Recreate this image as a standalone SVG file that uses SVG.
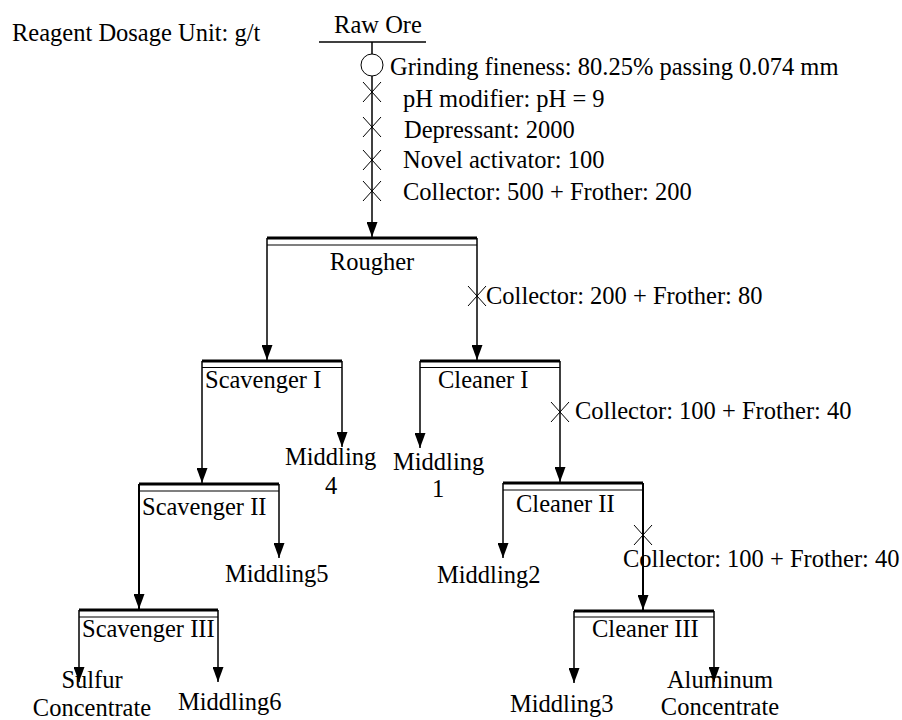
<svg xmlns="http://www.w3.org/2000/svg" width="902" height="720" viewBox="0 0 902 720">
<style>
text{font-family:"Liberation Serif","Times New Roman",serif;font-size:24.5px;fill:#000}
.bar{stroke:#000;stroke-width:3}
.thin{stroke:#000;stroke-width:1.2}
.ln{stroke:#000;stroke-width:1.5;fill:none}
.lnb{stroke:#000;stroke-width:2;fill:none}
.x{stroke:#000;stroke-width:1;fill:none}
</style>
<defs>
<marker id="ah" viewBox="0 0 11 15" refX="5.5" refY="15" markerWidth="11" markerHeight="15" markerUnits="userSpaceOnUse" orient="0">
<path d="M0,0 L11,0 L5.5,15 z" fill="#000"/>
</marker>
<path id="xm" d="M-9,-10 L9,10 M-9,10 L9,-10"/>
</defs>
<rect width="902" height="720" fill="#fff"/>
<text x="12" y="41">Reagent Dosage Unit: g/t</text>
<g id="raw-ore">
<text x="378" y="33" text-anchor="middle">Raw Ore</text>
<line x1="319" y1="42" x2="426" y2="42" class="ln"/>
</g>
<g id="connectors">
<line x1="372" y1="42" x2="372" y2="237" class="ln" marker-end="url(#ah)"/>
<line x1="267" y1="238" x2="267" y2="360" class="ln" marker-end="url(#ah)"/>
<line x1="477" y1="238" x2="477" y2="360" class="ln" marker-end="url(#ah)"/>
<line x1="202" y1="361" x2="202" y2="483" class="ln" marker-end="url(#ah)"/>
<line x1="342" y1="361" x2="342" y2="447" class="ln" marker-end="url(#ah)"/>
<line x1="420" y1="361" x2="420" y2="448" class="ln" marker-end="url(#ah)"/>
<line x1="560" y1="361" x2="560" y2="482" class="ln" marker-end="url(#ah)"/>
<line x1="139" y1="484" x2="139" y2="609" class="lnb" marker-end="url(#ah)"/>
<line x1="279" y1="484" x2="279" y2="558" class="ln" marker-end="url(#ah)"/>
<line x1="503" y1="483" x2="503" y2="558" class="ln" marker-end="url(#ah)"/>
<line x1="643" y1="483" x2="643" y2="610" class="lnb" marker-end="url(#ah)"/>
<line x1="79" y1="610" x2="79" y2="682" class="ln" marker-end="url(#ah)"/>
<line x1="218" y1="610" x2="218" y2="682" class="ln" marker-end="url(#ah)"/>
<line x1="574" y1="611" x2="574" y2="683" class="ln" marker-end="url(#ah)"/>
<line x1="714" y1="611" x2="714" y2="682" class="ln" marker-end="url(#ah)"/>
</g>
<g id="reagents">
<circle cx="372" cy="65" r="11" fill="#fff" stroke="#000" stroke-width="1"/>
<text x="390" y="75">Grinding fineness: 80.25% passing 0.074 mm</text>
<use href="#xm" x="372" y="92" class="x"/>
<text x="403" y="107">pH modifier: pH = 9</text>
<use href="#xm" x="372" y="127" class="x"/>
<text x="404" y="138">Depressant: 2000</text>
<use href="#xm" x="372" y="160" class="x"/>
<text x="403" y="168">Novel activator: 100</text>
<use href="#xm" x="372" y="191" class="x"/>
<text x="403" y="200">Collector: 500 + Frother: 200</text>
<use href="#xm" x="477" y="296" class="x"/>
<text x="486" y="304">Collector: 200 + Frother: 80</text>
<use href="#xm" x="560" y="412" class="x"/>
<text x="575" y="419">Collector: 100 + Frother: 40</text>
<use href="#xm" x="643" y="535" class="x"/>
<text x="623" y="567">Collector: 100 + Frother: 40</text>
</g>
<g id="rougher">
<line x1="267" y1="238" x2="477" y2="238" class="bar"/>
<line x1="267" y1="245" x2="477" y2="245" class="thin"/>
<text x="372" y="270" text-anchor="middle">Rougher</text>
</g>
<g id="scavenger-1">
<line x1="202" y1="361" x2="342" y2="361" class="bar"/>
<line x1="202" y1="367.5" x2="342" y2="367.5" class="thin"/>
<text x="205" y="388">Scavenger I</text>
</g>
<g id="cleaner-1">
<line x1="420" y1="361" x2="560" y2="361" class="bar"/>
<line x1="420" y1="367.5" x2="560" y2="367.5" class="thin"/>
<text x="438" y="388">Cleaner I</text>
</g>
<g id="scavenger-2">
<line x1="139" y1="484" x2="279" y2="484" class="bar"/>
<line x1="139" y1="491" x2="279" y2="491" class="thin"/>
<text x="142" y="515">Scavenger II</text>
</g>
<g id="cleaner-2">
<line x1="503" y1="483" x2="643" y2="483" class="bar"/>
<line x1="503" y1="490" x2="643" y2="490" class="thin"/>
<text x="516" y="512">Cleaner II</text>
</g>
<g id="scavenger-3">
<line x1="79" y1="610" x2="218" y2="610" class="bar"/>
<line x1="79" y1="617" x2="218" y2="617" class="thin"/>
<text x="82" y="637">Scavenger III</text>
</g>
<g id="cleaner-3">
<line x1="574" y1="611" x2="714" y2="611" class="bar"/>
<line x1="574" y1="617" x2="714" y2="617" class="thin"/>
<text x="592" y="637">Cleaner III</text>
</g>
<g id="middling-4"><text x="285" y="465">Middling</text><text x="331" y="494" text-anchor="middle">4</text></g>
<g id="middling-1"><text x="393" y="470">Middling</text><text x="438" y="497" text-anchor="middle">1</text></g>
<g id="middling-5"><text x="225" y="582">Middling5</text></g>
<g id="middling-2"><text x="437" y="583">Middling2</text></g>
<g id="middling-6"><text x="178" y="710">Middling6</text></g>
<g id="middling-3"><text x="510" y="712">Middling3</text></g>
<g id="sulfur-concentrate"><text x="92" y="688" text-anchor="middle">Sulfur</text><text x="92" y="716" text-anchor="middle">Concentrate</text></g>
<g id="aluminum-concentrate"><text x="720" y="688" text-anchor="middle">Aluminum</text><text x="720" y="715" text-anchor="middle">Concentrate</text></g>
</svg>
